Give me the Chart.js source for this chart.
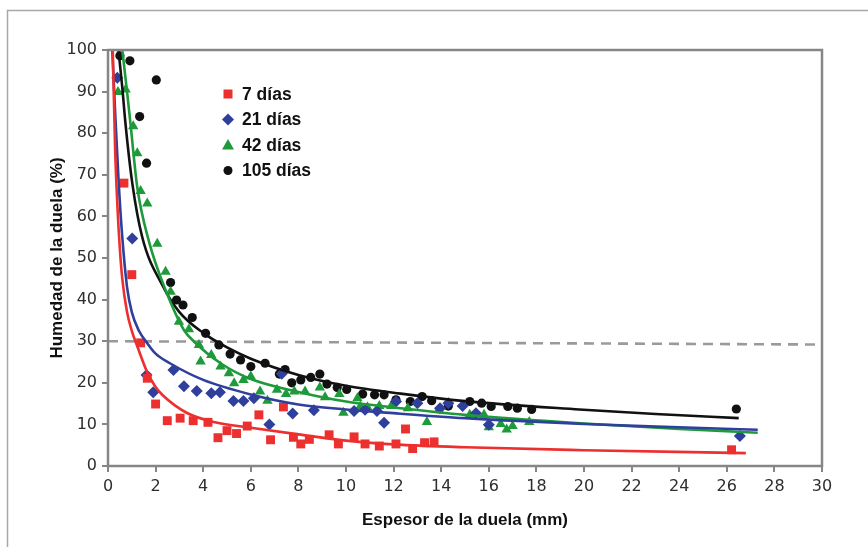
<!DOCTYPE html>
<html>
<head>
<meta charset="utf-8">
<script src="https://cdn.jsdelivr.net/npm/chart.js@4.4.1/dist/chart.umd.min.js"></script>
<style>
  html, body { margin: 0; padding: 0; background: #fff; }
  #wrap { width: 868px; height: 547px; }
</style>
</head>
<body>
<div id="wrap"><canvas id="chart" width="868" height="547"></canvas></div>
<script>
const seriesNames = ["7 días", "21 días", "42 días", "105 días"];
const seriesColors = ["#ec2f2f", "#2f3f9c", "#1f9a3b", "#111111"];
const seriesShapes = ["rect", "rectRot", "triangle", "circle"];

// puntos medidos [espesor mm, humedad %]
const dias7 = [[0.67,68],[1.0,46],[1.37,29.6],[1.65,21.1],[2.0,14.9],[2.49,10.9],[3.03,11.5],[3.58,10.9],
  [4.2,10.5],[4.62,6.8],[5.0,8.5],[5.4,7.8],[5.85,9.6],[6.34,12.3],[6.83,6.3],[7.37,14.2],[7.79,6.9],
  [8.1,5.3],[8.46,6.4],[9.29,7.5],[9.68,5.3],[10.34,7.0],[10.8,5.3],[11.4,4.8],[12.1,5.3],[12.5,8.9],
  [12.8,4.2],[13.3,5.6],[13.7,5.8],[26.2,3.9]];
const dias21 = [[0.39,93.3],[1.02,54.7],[1.62,21.9],[1.9,17.7],[2.75,23.1],[3.19,19.2],[3.73,18.0],
  [4.34,17.5],[4.7,17.7],[5.27,15.6],[5.69,15.6],[6.13,16.3],[6.78,10.0],[7.3,22.2],[7.76,12.6],
  [8.65,13.4],[10.34,13.2],[10.8,13.5],[11.3,13.2],[11.6,10.4],[12.1,15.5],[13.0,15.1],[13.95,13.9],
  [14.3,15.1],[14.9,14.4],[15.46,12.7],[16.0,9.9],[26.55,7.2]];
const dias42 = [[0.42,89.9],[0.74,90.5],[1.06,81.7],[1.23,75.2],[1.37,66.1],[1.65,63.1],[2.07,53.4],
  [2.42,46.7],[2.63,41.9],[2.98,34.7],[3.4,32.9],[3.82,29.1],[3.89,25.1],[4.34,26.7],[4.73,23.9],
  [5.08,22.3],[5.3,19.9],[5.69,20.7],[6.0,21.5],[6.39,17.9],[6.7,15.7],[7.1,18.3],[7.48,17.3],
  [7.83,17.9],[8.28,17.9],[8.9,18.9],[9.12,16.5],[9.72,17.3],[9.89,12.8],[10.48,16.3],[10.6,14.3],
  [10.9,14.1],[11.4,14.4],[11.9,14.4],[12.6,13.9],[13.4,10.6],[13.9,13.5],[15.2,12.3],[15.8,12.3],
  [16.0,9.3],[16.5,10.1],[16.75,8.8],[17.0,9.6],[17.7,10.6]];
const dias105 = [[0.5,98.6],[0.92,97.4],[2.03,92.8],[1.33,84],[1.62,72.8],[2.63,44.1],[2.88,39.9],
  [3.15,38.7],[3.54,35.7],[4.1,31.9],[4.66,29.1],[5.13,26.9],[5.57,25.5],[6.0,23.9],[6.6,24.7],
  [7.2,22.1],[7.44,23.2],[7.72,20.0],[8.1,20.7],[8.52,21.3],[8.9,22.1],[9.2,19.7],[9.63,18.9],
  [10.03,18.4],[10.7,17.3],[11.2,17.1],[11.6,17.1],[12.1,15.9],[12.7,15.5],[13.2,16.7],[13.6,15.7],
  [14.3,14.4],[15.2,15.5],[15.7,15.1],[16.1,14.3],[16.8,14.3],[17.2,13.9],[17.8,13.6],[26.4,13.7]];

// curvas de tendencia
const trend7 = [[0.2,100],[0.3,76],[0.4,62],[0.5,52],[0.6,45],[0.8,37],[1.0,32.5],[1.25,28.5],
  [1.65,22.5],[2.0,19],[2.3,17],[3.3,12.8],[4.5,10.5],[6,9.2],[8,7.6],[10,6.1],[12,5.2],[15,4.5],
  [20,3.8],[26.8,3.1]];
const trend21 = [[0.18,100],[0.3,85],[0.45,68],[0.6,55],[0.8,43],[1.0,37],[1.3,32.5],[1.65,29.5],
  [2.0,27],[2.6,24.7],[4,20.7],[6,17.2],[8,14.8],[10,13.6],[12,12.7],[15,11.5],[20,10.1],[24,9.3],
  [27.3,8.7]];
const trend42 = [[0.6,100],[0.8,90],[0.95,82],[1.23,67],[1.72,54],[2.42,42.3],[3.19,32.7],[3.6,30],
  [4.73,24.7],[6,20.9],[8,17.8],[10,15.5],[12.3,13.9],[15,12.3],[20,10.2],[24,8.9],[27.3,8.0]];
const trend105 = [[0.44,100],[0.6,91],[0.74,82],[1.02,68],[1.44,55],[2.28,43.5],[3.0,37],[4.0,32],
  [5,28.5],[6,25.8],[8,21.9],[10,19.3],[12.3,17.4],[15,15.6],[19.8,13.6],[23,12.5],[26.5,11.5]];

// línea de referencia (30 %)
const limitLine = [[0, 30], [30, 29.2]];

const toXY = (arr) => arr.map((p) => ({ x: p[0], y: p[1] }));

const pointSets = [dias7, dias21, dias42, dias105];
const trendSets = [trend7, trend21, trend42, trend105];
const pointSizes = [6.3, 6, 6, 4.6];

const datasets = [];
pointSets.forEach((pts, i) => {
  datasets.push({
    label: seriesNames[i],
    data: toXY(pts),
    pointStyle: seriesShapes[i],
    pointRadius: pointSizes[i],
    backgroundColor: seriesColors[i],
    borderColor: seriesColors[i],
    borderWidth: 0,
    order: 2,
  });
});
trendSets.forEach((pts, i) => {
  datasets.push({
    label: "tendencia " + seriesNames[i],
    data: toXY(pts),
    showLine: true,
    pointRadius: 0,
    borderColor: seriesColors[i],
    borderWidth: 2.6,
    cubicInterpolationMode: "monotone",
    order: 1,
  });
});
datasets.push({
  label: "30%",
  data: toXY(limitLine),
  showLine: true,
  pointRadius: 0,
  borderColor: "#9a9a9a",
  borderWidth: 2.6,
  borderDash: [10, 7],
  order: 3,
});

const framePlugin = {
  id: "frame",
  beforeDraw(chart) {
    const c = chart.ctx;
    c.save();
    c.fillStyle = "#fff";
    c.fillRect(0, 0, chart.width, chart.height);
    c.strokeStyle = "#a8a8a8";
    c.lineWidth = 1.5;
    c.beginPath();
    c.moveTo(7.5, chart.height);
    c.lineTo(7.5, 10.5);
    c.lineTo(chart.width, 10.5);
    c.stroke();
    c.restore();
  },
  afterDraw(chart) {
    const a = chart.chartArea;
    const c = chart.ctx;
    c.save();
    c.strokeStyle = "#868686";
    c.lineWidth = 2.5;
    c.strokeRect(a.left, a.top, a.right - a.left, a.bottom - a.top);

    // leyenda
    c.font = "bold 17.5px 'Liberation Sans', Arial, sans-serif";
    c.textBaseline = "middle";
    const lx = 228, ly = 94, step = 25.5;
    seriesNames.forEach((name, i) => {
      const y = ly + i * step;
      c.fillStyle = seriesColors[i];
      c.beginPath();
      if (seriesShapes[i] === "rect") {
        c.rect(lx - 4.5, y - 4.5, 9, 9);
      } else if (seriesShapes[i] === "rectRot") {
        c.moveTo(lx, y - 6); c.lineTo(lx + 6, y); c.lineTo(lx, y + 6); c.lineTo(lx - 6, y);
        c.closePath();
      } else if (seriesShapes[i] === "triangle") {
        c.moveTo(lx, y - 6); c.lineTo(lx + 6, y + 4.5); c.lineTo(lx - 6, y + 4.5);
        c.closePath();
      } else {
        c.arc(lx, y, 4.5, 0, Math.PI * 2);
      }
      c.fill();
      c.fillStyle = "#111";
      c.fillText(name, lx + 14, y + 1);
    });
    c.restore();
  },
};

const tickFont = { family: "'DejaVu Sans', sans-serif", size: 16 };
const titleFont = { family: "'Liberation Sans', Arial, sans-serif", size: 17, weight: "bold" };

new Chart(document.getElementById("chart"), {
  type: "scatter",
  data: { datasets },
  options: {
    responsive: false,
    animation: false,
    layout: { padding: { top: 50, right: 46, left: 0, bottom: 0 } },
    plugins: { legend: { display: false }, tooltip: { enabled: false } },
    scales: {
      x: {
        type: "linear",
        min: 0,
        max: 30,
        ticks: { stepSize: 2, color: "#2e2e2e", font: tickFont, padding: 5, maxRotation: 0 },
        grid: { drawOnChartArea: false, drawTicks: true, tickLength: 6, color: "#868686", lineWidth: 2 },
        border: { display: false },
        title: { display: true, text: "Espesor de la duela (mm)", color: "#111", font: titleFont, padding: { top: 0, bottom: 16 } },
        afterFit(scale) { scale.height = 81; },
      },
      y: {
        min: 0,
        max: 100,
        ticks: { stepSize: 10, color: "#2e2e2e", font: tickFont, padding: 5 },
        grid: { drawOnChartArea: false, drawTicks: true, tickLength: 6, color: "#868686", lineWidth: 2 },
        border: { display: false },
        title: { display: true, text: "Humedad de la duela (%)", color: "#111", font: titleFont, padding: { top: 47, bottom: 0 } },
        afterFit(scale) { scale.width = 108; },
      },
    },
  },
  plugins: [framePlugin],
});
</script>
</body>
</html>
